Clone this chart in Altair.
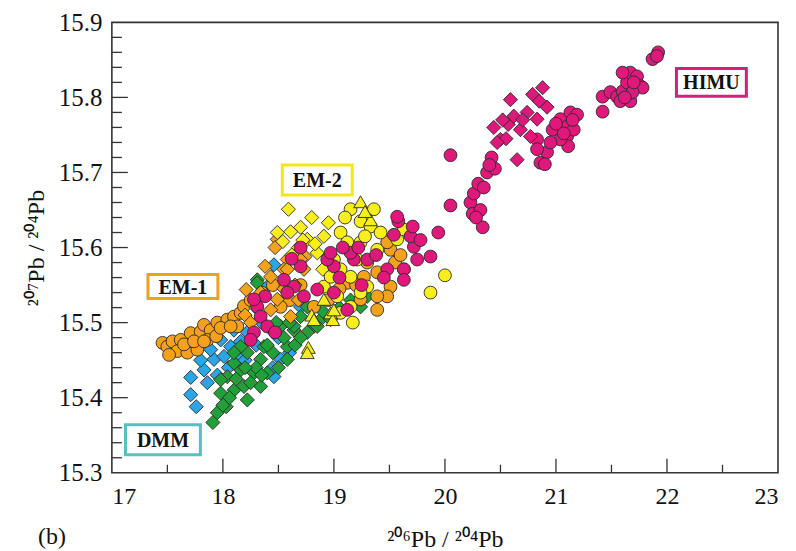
import altair as alt
import pandas as pd

# ---------------- data ----------------
orange_circ_x = [17.456,17.50,17.546,17.62,17.59,17.68,17.77,17.71,17.80,17.83,17.89,17.95,17.86,17.94,18.04,18.10,18.16,18.13,18.19,17.515,17.65,17.74,17.83,17.98,18.07,
                 18.25,18.35,18.45,18.60,18.70,
                 19.12,19.27,19.39,19.51,19.48,19.39,19.24,19.51,19.48,19.63,18.82,18.52,19.39,19.05,18.95,19.30,19.55,19.20,19.60]
orange_circ_y = [15.473,15.468,15.475,15.477,15.462,15.460,15.464,15.486,15.488,15.497,15.490,15.500,15.477,15.482,15.504,15.508,15.513,15.495,15.522,15.457,15.471,15.475,15.475,15.493,15.495,
                 15.530,15.540,15.550,15.530,15.550,
                 15.553,15.561,15.567,15.548,15.535,15.535,15.531,15.597,15.607,15.571,15.521,15.521,15.517,15.545,15.530,15.580,15.580,15.550,15.590]

orange_diam_x = [18.49,18.47,18.58,18.74,18.73,18.55,18.43,18.49,18.43,18.61,18.34,18.30,18.20,18.25,18.38,18.65,18.55,18.68,18.21,18.58,18.70]
orange_diam_y = [15.611,15.600,15.584,15.588,15.571,15.571,15.561,15.531,15.517,15.508,15.540,15.520,15.510,15.500,15.575,15.550,15.545,15.530,15.544,15.571,15.584]

yellow_diam_x = [18.59,18.61,18.70,18.76,18.95,18.91,18.49,18.54,18.68,18.85,18.90,18.80,18.62,18.72,18.83]
yellow_diam_y = [15.651,15.621,15.627,15.611,15.633,15.615,15.620,15.608,15.600,15.593,15.571,15.640,15.590,15.610,15.605]

yellow_circ_x = [19.06,19.15,19.24,19.36,19.12,19.00,19.24,19.33,19.06,19.21,19.39,18.91,19.03,19.15,19.15,19.06,19.17,19.30,19.42,19.57,19.63,19.87,20.00,19.24,18.97,19.10,19.28]
yellow_circ_y = [15.620,15.651,15.635,15.651,15.607,15.584,15.607,15.628,15.571,15.584,15.597,15.548,15.535,15.561,15.521,15.513,15.500,15.548,15.620,15.611,15.624,15.540,15.563,15.540,15.561,15.640,15.615]

yellow_tri_x = [19.24,19.33,18.97,18.99,18.80,18.77,18.91,18.76,18.82,19.00,19.28]
yellow_tri_y = [15.661,15.637,15.513,15.504,15.510,15.467,15.531,15.460,15.504,15.517,15.648]

blue_diam_x = [17.71,17.76,17.71,17.83,17.86,17.92,18.01,18.07,17.89,17.98,18.16,18.46,18.40,18.16,18.22,18.46,18.52,18.70,
               17.95,18.05,18.20,18.30,18.35,18.45,18.60,18.50,17.80,18.10]
blue_diam_y = [15.404,15.388,15.427,15.437,15.420,15.451,15.455,15.468,15.464,15.477,15.475,15.577,15.548,15.451,15.487,15.428,15.451,15.521,
               15.430,15.440,15.450,15.470,15.500,15.440,15.460,15.480,15.450,15.490]

green_diam_x = [17.91,17.95,18.03,17.98,18.10,18.04,18.16,18.10,18.22,18.28,18.34,18.37,18.46,18.52,18.58,18.64,18.58,18.31,18.19,18.34,18.22,18.70,18.76,18.82,18.88,18.40,18.16,18.10,17.98,
                18.31,18.64,18.76,18.85,18.97,19.24,19.30,
                18.25,18.30,18.45,18.50,18.55,18.65,18.70,18.40,18.20,18.12,18.06,18.00,18.35,18.48,18.60,18.90,19.05,19.15]
green_diam_y = [15.367,15.380,15.388,15.406,15.410,15.428,15.437,15.446,15.460,15.433,15.451,15.468,15.487,15.495,15.468,15.490,15.451,15.557,15.415,15.415,15.397,15.508,15.521,15.495,15.504,15.433,15.468,15.460,15.424,
                15.553,15.495,15.487,15.495,15.504,15.521,15.535,
                15.420,15.440,15.460,15.440,15.480,15.470,15.480,15.470,15.440,15.425,15.400,15.390,15.430,15.500,15.500,15.515,15.520,15.530]

magenta_circ_x = [19.00,18.94,19.18,19.30,19.15,19.48,19.63,19.63,19.75,19.72,19.69,19.54,19.58,19.57,19.71,19.87,19.94,19.12,19.00,18.70,18.85,18.64,18.55,18.58,18.73,18.38,18.31,18.34,18.40,18.47,18.28,18.97,18.25,18.28,18.70,18.62,19.08,19.22,19.38,19.45,19.78,19.25,19.05,
                  20.05,20.05,20.34,20.23,20.26,20.30,20.25,20.32,20.28,20.35,20.38,20.42,20.45,20.40,
                  20.83,20.86,20.92,20.97,21.04,21.10,21.13,21.19,21.10,21.11,21.16,21.04,20.95,20.90,20.83,21.00,21.07,21.15,
                  21.42,21.42,21.49,21.55,21.60,21.64,21.67,21.73,21.76,21.78,21.58,21.67,21.87,21.92,21.91,21.69,21.60,21.70,21.62]
magenta_circ_y = [15.575,15.584,15.584,15.584,15.593,15.571,15.571,15.557,15.584,15.601,15.615,15.617,15.635,15.641,15.628,15.588,15.620,15.517,15.540,15.575,15.544,15.548,15.557,15.540,15.535,15.535,15.521,15.508,15.495,15.487,15.487,15.593,15.477,15.531,15.600,15.585,15.600,15.600,15.590,15.560,15.610,15.550,15.560,
                  15.723,15.656,15.627,15.660,15.672,15.685,15.645,15.650,15.640,15.680,15.700,15.720,15.705,15.710,
                  15.744,15.713,15.727,15.757,15.771,15.761,15.780,15.777,15.748,15.735,15.757,15.744,15.740,15.711,15.731,15.765,15.752,15.770,
                  15.781,15.801,15.807,15.801,15.808,15.820,15.833,15.828,15.815,15.813,15.795,15.795,15.851,15.860,15.855,15.807,15.833,15.820,15.800]

magenta_diam_x = [20.59,20.65,20.44,20.50,20.57,20.68,20.74,20.79,20.88,20.92,20.83,20.77,20.62,20.70,20.55,20.47,20.85,20.52]
magenta_diam_y = [15.797,15.717,15.760,15.744,15.764,15.757,15.780,15.804,15.813,15.787,15.771,15.748,15.775,15.770,15.745,15.740,15.795,15.770]

label_text = ["EM-1", "EM-2", "DMM", "HIMU"]
label_x = [17.64, 18.85, 17.46, 22.40]
label_y = [15.548, 15.690, 15.344, 15.820]
label_color = ["#f0a020", "#f2e81c", "#5bbfc2", "#d4207a"]
label_box_w = [70, 70, 75, 70]
label_box_h = [24, 30, 30, 28]

x_major = [18, 19, 20, 21, 22]
x_minor = [17.5, 18.5, 19.5, 20.5, 21.5, 22.5]
y_major = [15.4, 15.5, 15.6, 15.7, 15.8]
y_minor = [15.32, 15.34, 15.36, 15.38, 15.42, 15.44, 15.46, 15.48, 15.52, 15.54, 15.56, 15.58,
           15.62, 15.64, 15.66, 15.68, 15.72, 15.74, 15.76, 15.78, 15.82, 15.84, 15.86, 15.88]
x_labels = [17, 18, 19, 20, 21, 22, 23]
y_labels = [15.3, 15.4, 15.5, 15.6, 15.7, 15.8, 15.9]

# ---------------- chart ----------------
W, H = 667, 451
FONT = "Liberation Serif"
STROKE = "#2a2a2a"

x_enc = alt.X("x:Q", scale=alt.Scale(domain=[17, 23], nice=False, zero=False),
              axis=alt.Axis(values=x_labels, format="d", title="²⁰⁶Pb / ²⁰⁴Pb",
                            ticks=False, tickSize=0, domain=False, grid=False,
                            labelFont=FONT, titleFont=FONT, labelFontSize=24, titleFontSize=24,
                            labelColor="#111111", titleColor="#111111", titleFontWeight="normal",
                            labelPadding=12, titlePadding=19))
y_enc = alt.Y("y:Q", scale=alt.Scale(domain=[15.3, 15.9], nice=False, zero=False),
              axis=alt.Axis(values=y_labels, format=".1f", title="²⁰⁷Pb / ²⁰⁴Pb",
                            ticks=False, tickSize=0, domain=False, grid=False,
                            labelFont=FONT, titleFont=FONT, labelFontSize=25, titleFontSize=24,
                            labelColor="#111111", titleColor="#111111", titleFontWeight="normal",
                            labelPadding=10, titlePadding=10))


def pts(xs, ys, shape, color, size):
    df = pd.DataFrame({"x": xs, "y": ys})
    return alt.Chart(df).mark_point(shape=shape, filled=True, fill=color, stroke=STROKE,
                                    strokeWidth=0.9, size=size, opacity=1).encode(x=x_enc, y=y_enc)


CS, DS, TS = 165, 200, 190
layers = [
    pts(blue_diam_x, blue_diam_y, "diamond", "#2aa6e6", DS),
    pts(green_diam_x, green_diam_y, "diamond", "#21a03a", DS),
    pts(orange_circ_x, orange_circ_y, "circle", "#f4a21c", CS),
    pts(orange_diam_x, orange_diam_y, "diamond", "#f4a21c", DS),
    pts(yellow_diam_x, yellow_diam_y, "diamond", "#f7ee1c", DS),
    pts(yellow_circ_x, yellow_circ_y, "circle", "#f7ee1c", CS),
    pts(yellow_tri_x, yellow_tri_y, "triangle-up", "#f7ee1c", TS),
    pts(magenta_circ_x, magenta_circ_y, "circle", "#e0187c", CS),
    pts(magenta_diam_x, magenta_diam_y, "diamond", "#e0187c", DS),
]

# inward ticks
tick_color = "#333333"
layers.append(alt.Chart(pd.DataFrame({"x": x_major})).mark_rule(color=tick_color, strokeWidth=1.3)
              .encode(x=x_enc, y=alt.value(H), y2=alt.value(H - 14)))
layers.append(alt.Chart(pd.DataFrame({"x": x_minor})).mark_rule(color=tick_color, strokeWidth=1.3)
              .encode(x=x_enc, y=alt.value(H), y2=alt.value(H - 8)))
layers.append(alt.Chart(pd.DataFrame({"y": y_major})).mark_rule(color=tick_color, strokeWidth=1.3)
              .encode(y=y_enc, x=alt.value(0), x2=alt.value(16)))
layers.append(alt.Chart(pd.DataFrame({"y": y_minor})).mark_rule(color=tick_color, strokeWidth=1.3)
              .encode(y=y_enc, x=alt.value(0), x2=alt.value(10)))

# label boxes
lab = pd.DataFrame({
    "x": label_x, "y": label_y, "text": label_text, "color": label_color,
    "shape": [f"M-1,-{h / w:.4f}L1,-{h / w:.4f}L1,{h / w:.4f}L-1,{h / w:.4f}Z" for w, h in zip(label_box_w, label_box_h)],
    "size": [w * w for w in label_box_w],
})
layers.append(alt.Chart(lab).mark_point(filled=True, fill="white", strokeWidth=3, opacity=1).encode(
    x=x_enc, y=y_enc,
    shape=alt.Shape("shape:N", scale=None),
    size=alt.Size("size:Q", scale=None),
    stroke=alt.Stroke("color:N", scale=None),
))
layers.append(alt.Chart(lab).mark_text(font=FONT, fontSize=20, fontWeight="bold", color="#111111",
                                       baseline="middle", align="center", dy=1).encode(
    x=x_enc, y=y_enc, text="text:N"))

# panel letter
layers.append(alt.Chart(pd.DataFrame({"t": ["(b)"]})).mark_text(
    font=FONT, fontSize=24, color="#111111", align="center", baseline="middle").encode(
    x=alt.value(-60), y=alt.value(H + 64), text="t:N"))

chart = alt.layer(*layers).properties(
    width=W, height=H, background="white",
    padding={"left": 16, "top": 2, "right": 10, "bottom": 0},
).configure_view(
    stroke="#333333", strokeWidth=1.6
)

chart.save("out.html", embed_options={"renderer": "svg", "actions": False})
